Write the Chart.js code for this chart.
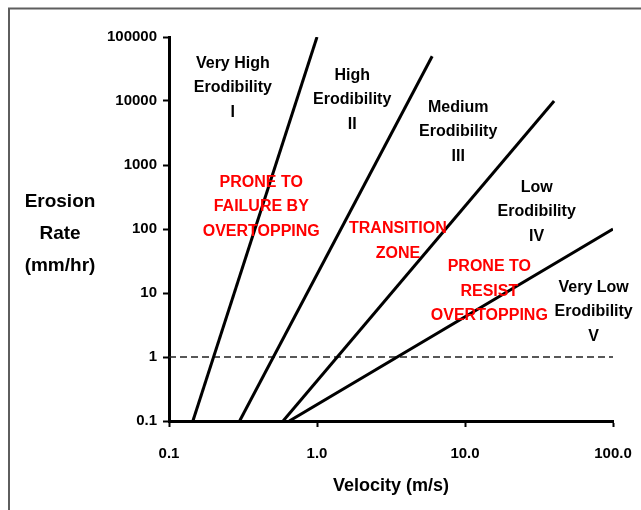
<!DOCTYPE html>
<html>
<head>
<meta charset="utf-8">
<script src="https://cdn.jsdelivr.net/npm/chart.js@4.4.1/dist/chart.umd.min.js"></script>
<style>
  html, body { margin: 0; padding: 0; background: #fff; }
  canvas { display: block; }
</style>
</head>
<body>
<canvas id="chart" width="641" height="510"></canvas>
<script>
// velocity (m/s) and erosion rate (mm/hr) at the ends of each boundary line
const velI = [0.145, 1.0];
const rateI = [0.1, 100000];
const velII = [0.3, 6.0];
const rateII = [0.1, 50000];
const velIII = [0.59, 40];
const rateIII = [0.1, 10000];
const velIV = [0.65, 100];
const rateIV = [0.1, 100];
// dashed reference at 1 mm/hr
const velRef = [0.1, 100];
const rateRef = [1, 1];

const xTicks = [0.1, 1, 10, 100];
const xTickLabels = ['0.1', '1.0', '10.0', '100.0'];
const yTicks = [0.1, 1, 10, 100, 1000, 10000, 100000];
const yTickLabels = ['0.1', '1', '10', '100', '1000', '10000', '100000'];

// erodibility classes (black), centre of each text block in data units
const classText = [
  ['Very High', 'Erodibility', 'I'],
  ['High', 'Erodibility', 'II'],
  ['Medium', 'Erodibility', 'III'],
  ['Low', 'Erodibility', 'IV'],
  ['Very Low', 'Erodibility', 'V']
];
const classVel = [0.27, 1.73, 9.0, 30.5, 74];
const classRate = [16000, 10400, 3280, 184, 5.1];

// zones (red)
const zoneText = [
  ['PRONE TO', 'FAILURE BY', 'OVERTOPPING'],
  ['TRANSITION', 'ZONE'],
  ['PRONE TO', 'RESIST', 'OVERTOPPING']
];
const zoneVel = [0.42, 3.52, 14.6];
const zoneRate = [221, 65, 10.7];

function pts(xs, ys) {
  return xs.map((v, i) => ({ x: v, y: ys[i] }));
}

function lineSet(xs, ys) {
  return {
    data: pts(xs, ys),
    showLine: true,
    borderColor: '#000',
    borderWidth: 3,
    pointRadius: 0,
    fill: false
  };
}

const FONT = "'Liberation Sans', Arial, sans-serif";

// frame, y title and the text blocks
const textPlugin = {
  id: 'texts',
  beforeDraw(chart) {
    const ctx = chart.ctx;
    ctx.save();
    ctx.fillStyle = '#fff';
    ctx.fillRect(0, 0, chart.width, chart.height);
    ctx.strokeStyle = '#5e5e5e';
    ctx.lineWidth = 2;
    ctx.beginPath();
    ctx.moveTo(9, chart.height);
    ctx.lineTo(9, 8.5);
    ctx.lineTo(chart.width, 8.5);
    ctx.stroke();
    ctx.restore();
  },
  afterDatasetsDraw(chart) {
    const { ctx, scales: { x, y }, chartArea } = chart;
    ctx.save();
    ctx.textAlign = 'center';
    ctx.textBaseline = 'middle';

    // y axis title, horizontal, three lines
    ctx.font = 'bold 19px ' + FONT;
    ctx.fillStyle = '#000';
    const mid = (chartArea.top + chartArea.bottom) / 2 + 5;
    ['Erosion', 'Rate', '(mm/hr)'].forEach((t, i) => {
      ctx.fillText(t, 60, mid + (i - 1) * 32);
    });

    function block(lines, v, r, color) {
      const cx = x.getPixelForValue(v);
      const cy = y.getPixelForValue(r);
      const lh = 24.5;
      const off = (lines.length - 1) / 2;
      ctx.fillStyle = color;
      lines.forEach((t, i) => ctx.fillText(t, cx, cy + (i - off) * lh));
    }

    ctx.font = 'bold 16px ' + FONT;
    classText.forEach((lines, i) => block(lines, classVel[i], classRate[i], '#000'));
    zoneText.forEach((lines, i) => block(lines, zoneVel[i], zoneRate[i], '#ff0000'));
    ctx.restore();
  }
};

const refSet = lineSet(velRef, rateRef);
refSet.borderWidth = 1.5;
refSet.borderColor = '#222';
refSet.borderDash = [7, 4];

new Chart(document.getElementById('chart'), {
  type: 'scatter',
  data: {
    datasets: [
      lineSet(velI, rateI),
      lineSet(velII, rateII),
      lineSet(velIII, rateIII),
      lineSet(velIV, rateIV),
      refSet
    ]
  },
  options: {
    responsive: false,
    animation: false,
    devicePixelRatio: 1,
    layout: { padding: { left: 0, right: 28, top: 37, bottom: 0 } },
    plugins: {
      legend: { display: false },
      tooltip: { enabled: false }
    },
    scales: {
      x: {
        type: 'logarithmic',
        min: 0.1,
        max: 100,
        afterBuildTicks: (s) => { s.ticks = xTicks.map(v => ({ value: v })); },
        afterFit: (s) => { s.height = 89; s.paddingLeft = 0; s.paddingRight = 0; },
        border: { color: '#000', width: 3 },
        grid: { drawOnChartArea: false, drawTicks: true, tickLength: 6, tickWidth: 2, color: '#000' },
        ticks: {
          color: '#000',
          padding: 18,
          maxRotation: 0,
          autoSkip: false,
          font: { family: FONT, size: 15, weight: 'bold' },
          callback: (v, i) => xTickLabels[i]
        },
        title: {
          display: true,
          text: 'Velocity (m/s)',
          color: '#000',
          font: { family: FONT, size: 18, weight: 'bold' },
          padding: { top: 0, bottom: 13 }
        }
      },
      y: {
        type: 'logarithmic',
        min: 0.1,
        max: 100000,
        afterBuildTicks: (s) => { s.ticks = yTicks.map(v => ({ value: v })); },
        afterFit: (s) => { s.width = 169; s.paddingTop = 0; s.paddingBottom = 0; },
        border: { color: '#000', width: 3 },
        grid: { drawOnChartArea: false, drawTicks: true, tickLength: 6, tickWidth: 2, color: '#000' },
        ticks: {
          color: '#000',
          padding: 6,
          autoSkip: false,
          font: { family: FONT, size: 15, weight: 'bold' },
          callback: (v, i) => yTickLabels[i]
        }
      }
    }
  },
  plugins: [textPlugin]
});
</script>
</body>
</html>
